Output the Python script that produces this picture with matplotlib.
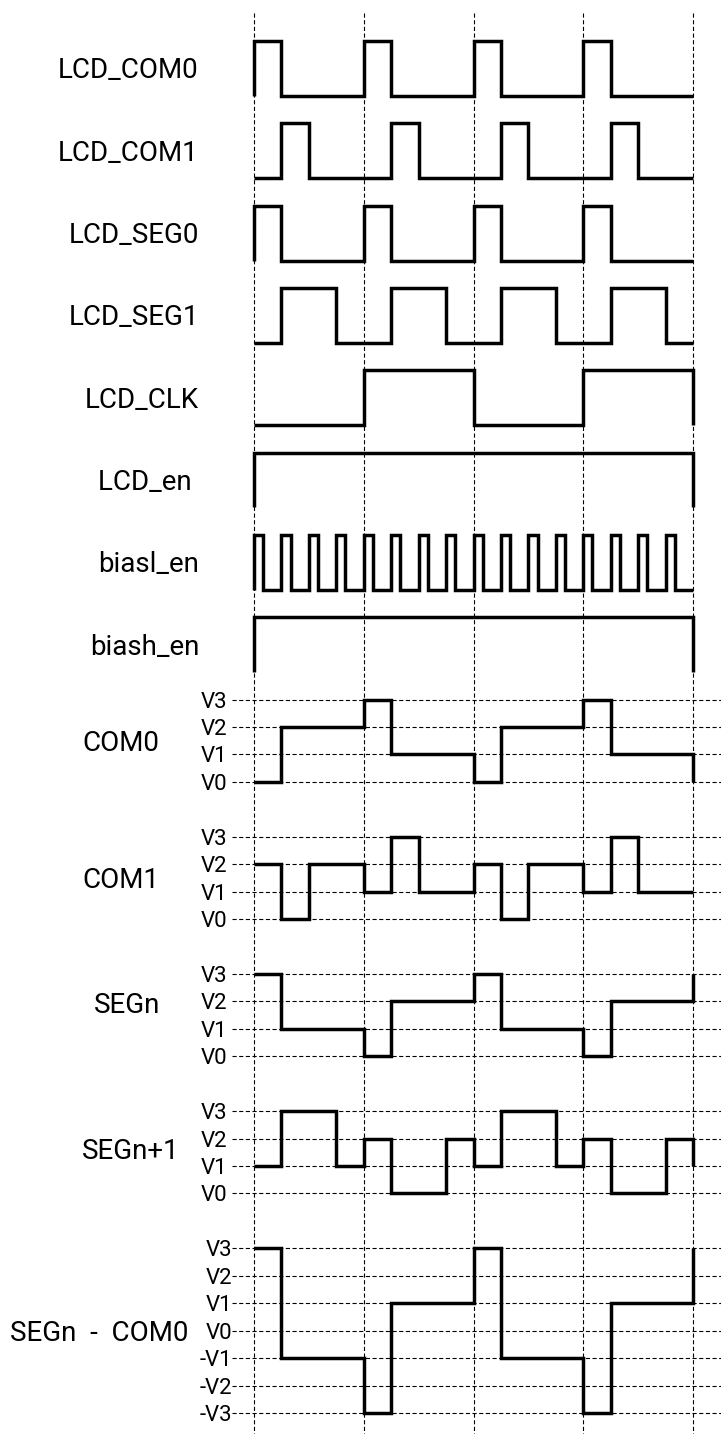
import matplotlib.pyplot as plt

plt.rcParams["font.family"] = ["Roboto", "DejaVu Sans"]
plt.rcParams["lines.scale_dashes"] = False

# digital signals: one level per quarter of a grid period (16 slots over 4 periods)
digital_names = ["LCD_COM0", "LCD_COM1", "LCD_SEG0", "LCD_SEG1",
                 "LCD_CLK", "LCD_en ", "biasl_en", "biash_en"]
lcd_com0 = [1, 0, 0, 0, 1, 0, 0, 0, 1, 0, 0, 0, 1, 0, 0, 0]
lcd_com1 = [0, 1, 0, 0, 0, 1, 0, 0, 0, 1, 0, 0, 0, 1, 0, 0]
lcd_seg0 = [1, 0, 0, 0, 1, 0, 0, 0, 1, 0, 0, 0, 1, 0, 0, 0]
lcd_seg1 = [0, 1, 1, 0, 0, 1, 1, 0, 0, 1, 1, 0, 0, 1, 1, 0]
lcd_clk = [0, 0, 0, 0, 1, 1, 1, 1, 0, 0, 0, 0, 1, 1, 1, 1]
lcd_en = [1, 1, 1, 1, 1, 1, 1, 1, 1, 1, 1, 1, 1, 1, 1, 1]
# biasl_en: three slots per quarter
biasl_en = [1, 0, 0, 1, 0, 0, 1, 0, 0, 1, 0, 0, 1, 0, 0, 1, 0, 0, 1, 0, 0, 1, 0, 0,
            1, 0, 0, 1, 0, 0, 1, 0, 0, 1, 0, 0, 1, 0, 0, 1, 0, 0, 1, 0, 0, 1, 0, 0]
biash_en = [1, 1, 1, 1, 1, 1, 1, 1, 1, 1, 1, 1, 1, 1, 1, 1]
digital_levels = [lcd_com0, lcd_com1, lcd_seg0, lcd_seg1,
                  lcd_clk, lcd_en, biasl_en, biash_en]

# multi-level signals (level index, V0..V3, or -V3..V3 for the difference)
analog_names = ["COM0", "COM1", "SEGn", "SEGn+1", "SEGn  -  COM0"]
com0 = [0, 2, 2, 2, 3, 1, 1, 1, 0, 2, 2, 2, 3, 1, 1, 1]
com1 = [2, 0, 2, 2, 1, 3, 1, 1, 2, 0, 2, 2, 1, 3, 1, 1]
segn = [3, 1, 1, 1, 0, 2, 2, 2, 3, 1, 1, 1, 0, 2, 2, 2]
segn1 = [1, 3, 3, 1, 2, 0, 0, 2, 1, 3, 3, 1, 2, 0, 0, 2]
segn_com0 = [3, -1, -1, -1, -3, 1, 1, 1, 3, -1, -1, -1, -3, 1, 1, 1]
analog_levels = [com0, com1, segn, segn1, segn_com0]
analog_end = [0, None, 3, 1, 3]
level_labels = ["V0", "V1", "V2", "V3"]
diff_labels = ["-V3", "-V2", "-V1", "V0", "V1", "V2", "V3"]

T_END = 16
U = 27.44      # pixels per unit
X0, Y0 = 254, 41


def px_x(px):
    return (px - X0) / U


def step_xy(levels, before=None, after=None):
    dt = T_END / len(levels)
    xs, ys = [], []
    if before is not None:
        xs.append(0)
        ys.append(before)
    for i, v in enumerate(levels):
        xs += [i * dt, (i + 1) * dt]
        ys += [v, v]
    if after is not None:
        xs.append(T_END)
        ys.append(after)
    return xs, ys


fig = plt.figure(figsize=(7.21, 14.34), dpi=100)
ax = fig.add_axes([0, 0, 1, 1])
ax.set_xlim(px_x(0), px_x(721))
ax.set_ylim((1434 - Y0) / U, -Y0 / U)
ax.axis("off")

wave = dict(color="black", lw=2.5, solid_joinstyle="miter", solid_capstyle="butt", zorder=3)
grid = dict(color="black", lw=0.8, linestyle=(0, (3.0, 1.8)), zorder=1)

# vertical period lines
for t in range(0, T_END + 1, 4):
    ax.plot([t, t], [(13 - Y0) / U, (1434 - Y0) / U], **grid)

# digital rows
for i, (name, lv) in enumerate(zip(digital_names, digital_levels)):
    top = 3 * i
    xs, ys = step_xy(lv, before=0, after=0)
    ax.plot(xs, [top + 2 * (1 - v) for v in ys], **wave)
    ax.text(px_x(199), top + 1 + 0.36, name, fontsize=20, ha="right", va="baseline")

# multi-level rows
analog_tops = [24, 29, 34, 39, 44]
name_pos = [(121, 1.5), (121, 1.5), (127, 1.05), (131, 1.4), (99, 3.0)]
for k, (name, lv) in enumerate(zip(analog_names, analog_levels)):
    top = analog_tops[k]
    labels = diff_labels if k == 4 else level_labels
    lo = -3 if k == 4 else 0
    tick_right = 232 if k == 4 else 227
    for j, lab in enumerate(labels):
        y = top + 3 - (lo + j)
        ax.plot([px_x(232), px_x(721)], [y, y], **grid)
        ax.text(px_x(tick_right), y + 0.29, lab, fontsize=16, ha="right", va="baseline")
    xs, ys = step_xy(lv, after=analog_end[k])
    ax.plot(xs, [top + 3 - v for v in ys], **wave)
    cx, dy = name_pos[k]
    ax.text(px_x(cx), top + dy + 0.36, name, fontsize=20, ha="center", va="baseline")

fig.savefig("out.png", dpi=100)
